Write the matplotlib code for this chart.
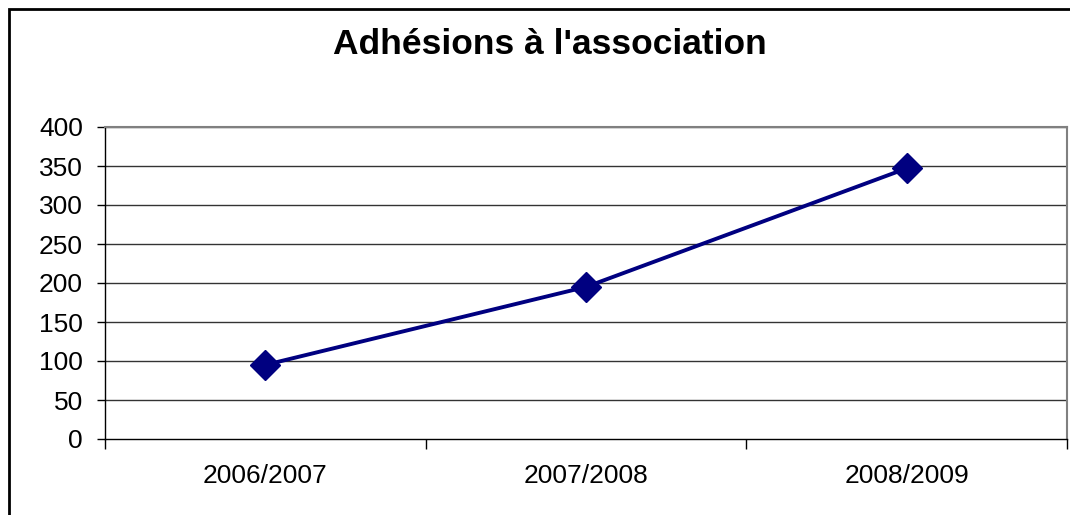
import matplotlib
matplotlib.use("Agg")
import matplotlib.pyplot as plt
from matplotlib.patches import Rectangle

# données
saisons = ["2006/2007", "2007/2008", "2008/2009"]
adhesions = [95, 195, 347]
yticks = [0, 50, 100, 150, 200, 250, 300, 350, 400]

plt.rcParams['font.family'] = ['Liberation Sans', 'DejaVu Sans']

fig = plt.figure(figsize=(10.7, 5.15), dpi=100)
ax = fig.add_axes([105/1070, 1 - 439/515, 962/1070, 312/515])

# cadre extérieur (coupé à droite et en bas)
fig.patches.append(Rectangle((9/1070, -0.1), 1.2, 1 - 9/515 + 0.1,
                             transform=fig.transFigure, fill=False,
                             edgecolor='black', linewidth=2))

x = [i + 0.5 for i in range(len(saisons))]
ax.plot(x, adhesions, color='#000080', linewidth=2.8, marker='D',
        markersize=15, markerfacecolor='#000080', markeredgecolor='#000080',
        zorder=3)

ax.set_xlim(0, len(saisons))
ax.set_ylim(0, 400)
ax.set_yticks(yticks)
ax.set_yticklabels([str(v) for v in yticks], fontsize=19)
ax.set_xticks(x)
ax.set_xticklabels(saisons, fontsize=19)
ax.tick_params(axis='x', length=0, pad=18)
ax.tick_params(axis='y', length=6, width=1, direction='out', pad=10)

# petits traits entre les catégories
ax.set_xticks(range(len(saisons) + 1), minor=True)
ax.tick_params(axis='x', which='minor', length=7, width=1, direction='out')

for v in yticks[1:]:
    ax.axhline(v, color='#333333', linewidth=1, zorder=1)

for s in ['top', 'right']:
    ax.spines[s].set_color('#808080')
    ax.spines[s].set_linewidth(1.5)
for s in ['left', 'bottom']:
    ax.spines[s].set_color('black')
    ax.spines[s].set_linewidth(1)

fig.text(550/1070, 1 - 45/515, "Adhésions à l'association", ha='center',
         va='center', fontsize=25.5, fontweight='bold')

fig.savefig("out.png", dpi=100)
